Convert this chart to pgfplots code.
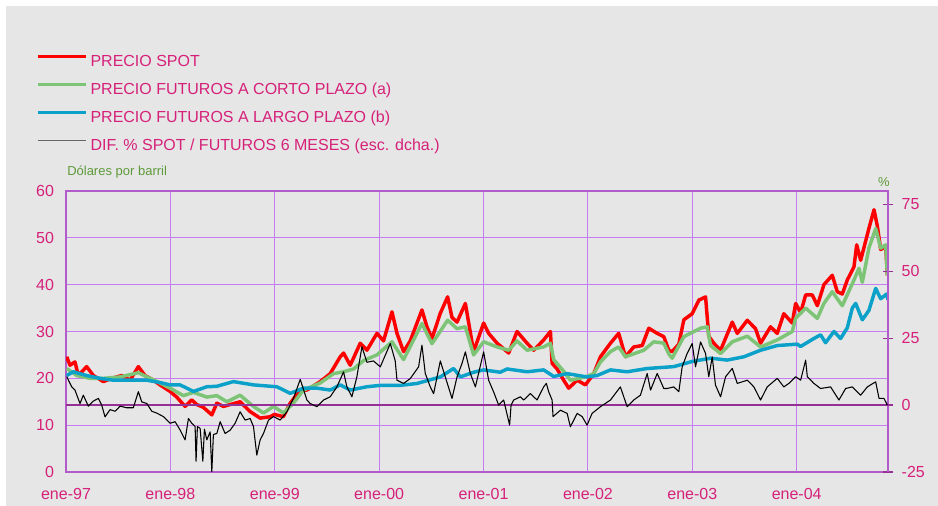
\documentclass[border=0pt]{standalone}
\usepackage{pgfplots}
\pgfplotsset{compat=1.18}
\usepackage{pgfplotstable}
\usepackage{fontspec}
\setmainfont{Liberation Sans}
\definecolor{bggray}{HTML}{E6E6E6}
\definecolor{magtxt}{HTML}{D6217A}
\definecolor{olivetxt}{HTML}{5E9A3A}
\definecolor{gridpurple}{HTML}{C67DF2}
\definecolor{axispurple}{HTML}{B25CCB}
\definecolor{zeropurple}{HTML}{953096}
\definecolor{spotred}{HTML}{FF0000}
\definecolor{shortgreen}{HTML}{7DC477}
\definecolor{longblue}{HTML}{0BA1C9}

% x = years since January 1997
\pgfplotstableread{
x y
0.007 24.6
0.038 22.8
0.086 23.5
0.118 20.6
0.198 22.5
0.262 20.6
0.358 19.3
0.438 20.0
0.534 20.6
0.614 19.6
0.693 22.5
0.757 20.6
0.837 19.6
0.901 18.6
0.997 17.2
1.061 16.0
1.141 14.0
1.205 15.4
1.253 14.4
1.316 13.8
1.397 12.2
1.445 14.7
1.508 14.0
1.668 15.0
1.764 12.9
1.860 11.5
1.956 11.8
1.997 12.3
2.083 11.8
2.148 14.7
2.244 17.5
2.308 17.5
2.435 19.3
2.531 21.0
2.627 24.6
2.659 25.4
2.723 22.8
2.819 27.5
2.883 26.0
2.979 29.6
3.042 28.0
3.123 34.2
3.171 29.6
3.234 25.7
3.298 28.0
3.410 34.6
3.458 31.0
3.506 28.5
3.586 33.9
3.656 37.4
3.698 33.0
3.746 32.0
3.826 36.0
3.905 25.7
4.001 31.8
4.049 29.6
4.130 27.5
4.241 25.4
4.321 30.0
4.417 27.5
4.481 26.0
4.576 28.2
4.641 30.0
4.657 23.2
4.705 22.0
4.768 19.6
4.816 17.9
4.897 19.6
4.976 18.6
5.056 21.0
5.120 24.6
5.216 27.5
5.295 29.6
5.360 24.6
5.439 26.7
5.520 27.0
5.583 30.7
5.664 29.6
5.727 28.9
5.775 26.0
5.807 25.7
5.871 27.3
5.919 32.5
5.999 33.8
6.063 36.7
6.127 37.4
6.158 29.0
6.206 27.5
6.271 26.0
6.383 32.0
6.431 29.6
6.527 32.4
6.606 30.6
6.654 27.5
6.750 31.0
6.814 29.6
6.877 33.8
6.958 31.8
6.990 36.0
7.038 34.0
7.086 37.8
7.150 37.8
7.198 35.5
7.261 40.0
7.341 42.0
7.389 38.5
7.437 38.0
7.485 41.0
7.549 43.8
7.575 48.5
7.613 45.2
7.692 52.0
7.741 56.0
7.773 52.5
7.805 47.5
7.853 48.2
7.869 42.0
}\spot

\pgfplotstableread{
x y
0.007 22.1
0.103 20.6
0.230 20.0
0.358 20.0
0.518 20.3
0.693 21.2
0.805 20.0
0.901 19.0
0.997 17.9
1.125 16.3
1.221 17.0
1.349 16.0
1.445 16.3
1.541 15.0
1.668 16.4
1.796 14.0
1.892 12.6
1.988 14.0
2.083 12.6
2.179 14.7
2.275 17.5
2.435 19.0
2.563 21.0
2.659 21.4
2.755 22.0
2.851 23.8
2.979 25.0
3.123 27.8
3.234 24.0
3.410 31.7
3.506 27.4
3.656 32.4
3.746 30.6
3.826 31.0
3.905 25.0
4.001 27.8
4.130 26.7
4.241 26.0
4.321 28.0
4.417 26.0
4.576 26.7
4.641 27.5
4.672 24.0
4.768 21.5
4.832 19.6
4.976 20.3
5.056 21.0
5.120 23.5
5.216 25.7
5.295 26.7
5.360 24.6
5.535 26.0
5.631 27.8
5.727 27.5
5.775 25.2
5.807 24.3
5.919 28.9
6.079 30.7
6.143 31.0
6.175 27.0
6.271 25.3
6.383 27.8
6.527 29.0
6.654 26.7
6.814 28.2
6.958 30.0
6.990 32.8
7.086 35.0
7.198 32.8
7.261 36.0
7.341 38.5
7.437 35.5
7.549 41.0
7.597 43.5
7.629 40.5
7.692 47.8
7.757 52.0
7.805 47.8
7.853 48.5
7.869 42.0
}\shortfut

\pgfplotstableread{
x y
0.007 20.6
0.070 21.4
0.198 20.6
0.326 20.0
0.454 19.6
0.645 19.6
0.774 19.6
0.901 19.1
0.997 18.6
1.093 18.6
1.221 17.2
1.349 18.2
1.445 18.3
1.604 19.3
1.796 18.6
2.020 18.2
2.148 16.8
2.275 17.9
2.404 17.9
2.531 17.5
2.627 18.6
2.723 17.5
2.883 18.2
3.011 18.5
3.202 18.5
3.363 18.9
3.586 20.3
3.713 22.1
3.778 20.3
3.905 21.3
4.001 21.8
4.161 21.3
4.225 22.0
4.417 21.4
4.576 21.8
4.672 20.4
4.801 21.0
4.992 20.3
5.088 20.6
5.216 21.8
5.376 21.4
5.568 22.1
5.759 22.4
5.823 22.5
5.999 23.6
6.175 24.3
6.335 23.9
6.494 24.6
6.654 26.0
6.814 27.0
7.006 27.3
7.038 26.8
7.165 28.5
7.229 29.3
7.277 27.6
7.357 30.0
7.421 28.5
7.485 30.8
7.533 35.0
7.565 36.0
7.629 32.5
7.692 34.5
7.757 39.2
7.805 37.0
7.862 38.0
7.875 36.8
}\longfut

\pgfplotstableread{
x y
0.007 10.6
0.055 6.8
0.086 5.6
0.134 0.6
0.166 3.7
0.214 -0.4
0.262 1.5
0.310 2.5
0.342 0.0
0.374 -4.4
0.422 -1.7
0.470 -2.3
0.518 -0.4
0.582 -1.0
0.645 -1.0
0.693 5.0
0.726 1.2
0.774 0.6
0.822 -2.3
0.870 -3.0
0.933 -4.3
0.997 -6.8
1.045 -6.2
1.093 -9.3
1.141 -13.0
1.173 -5.0
1.205 -6.8
1.237 -8.0
1.246 -21.0
1.259 -8.0
1.285 -8.7
1.311 -21.0
1.326 -9.0
1.349 -13.0
1.381 -10.0
1.397 -25.0
1.412 -11.0
1.445 -10.6
1.477 -6.2
1.524 -10.6
1.572 -9.4
1.620 -6.8
1.668 -2.5
1.716 -5.6
1.764 -5.0
1.796 -8.0
1.828 -18.7
1.860 -13.0
1.892 -10.6
1.940 -5.6
1.988 -4.3
2.052 -5.6
2.116 -2.5
2.179 2.5
2.244 9.6
2.308 1.9
2.339 0.6
2.404 -0.6
2.467 1.9
2.531 3.1
2.595 6.8
2.659 12.4
2.691 6.8
2.739 3.1
2.787 10.6
2.835 21.8
2.883 16.0
2.946 16.5
3.011 14.3
3.107 23.0
3.154 16.5
3.171 9.3
3.234 8.1
3.298 9.9
3.378 14.3
3.410 22.4
3.442 11.8
3.490 6.8
3.522 4.3
3.586 16.5
3.634 10.5
3.698 2.5
3.746 10.5
3.794 15.6
3.826 19.9
3.874 11.8
3.922 6.8
4.001 19.9
4.049 9.3
4.097 4.9
4.145 0.0
4.193 1.9
4.250 -7.5
4.264 0.0
4.289 1.9
4.353 3.1
4.385 1.9
4.449 4.3
4.513 1.9
4.576 6.8
4.602 8.1
4.624 5.0
4.657 1.9
4.666 -4.3
4.737 -1.9
4.801 -3.1
4.832 -8.1
4.897 -3.1
4.945 -4.3
4.992 -7.5
5.040 -3.1
5.120 -0.6
5.216 1.9
5.311 6.8
5.376 -0.6
5.439 1.9
5.503 3.7
5.568 11.8
5.600 5.6
5.664 11.8
5.727 6.2
5.759 6.2
5.823 6.8
5.871 5.0
5.903 14.3
5.951 19.3
5.999 23.0
6.031 14.3
6.079 23.6
6.127 19.3
6.158 10.6
6.191 18.0
6.222 7.5
6.271 3.1
6.319 10.6
6.383 13.7
6.431 8.1
6.527 9.3
6.590 6.8
6.654 1.9
6.718 6.8
6.814 10.0
6.877 6.8
6.925 8.1
6.990 10.6
7.038 9.3
7.086 16.8
7.102 10.6
7.165 8.1
7.229 6.2
7.325 6.8
7.405 1.9
7.469 6.2
7.533 6.8
7.613 3.7
7.677 6.8
7.757 8.7
7.789 2.5
7.836 2.5
7.869 0.0
}\diffsf

\begin{document}
\begin{tikzpicture}[x=1pt,y=1pt]
\useasboundingbox (0,0) rectangle (703.5,379.5);
\fill[bggray] (4.5,0) rectangle (703.5,375);

\begin{axis}[
  at={(49.5pt,25.5pt)}, anchor=south west,
  scale only axis, width=616.5pt, height=210.75pt,
  clip mode=individual,
  xmin=0, xmax=7.875, ymin=0, ymax=60,
  xtick={0,1,2,3,4,5,6,7},
  xticklabels={ene-97,ene-98,ene-99,ene-00,ene-01,ene-02,ene-03,ene-04},
  ytick={0,10,20,30,40,50,60},
  grid=major, grid style={gridpurple, line width=0.8pt},
  axis line style={axispurple, line width=1.2pt},
  major tick length=0pt,
  /pgf/number format/assume math mode=true,
  tick label style={font=\fontsize{12}{14}\selectfont, text=magtxt},
  xticklabel style={yshift=-9pt},
  yticklabel style={xshift=-5.5pt},
  legend style={at={(-0.0365,1.4866)}, anchor=north west, draw=none, fill=none,
    inner sep=0pt, row sep=10pt, column sep=2.5pt,
    font=\fontsize{12}{14}\selectfont, text=magtxt,
    nodes={inner sep=0pt, text height=8.6pt, text depth=2.5pt},
    cells={anchor=west}},
  legend image code/.code={\draw[#1] (0pt,4.3pt) -- (36pt,4.3pt);},
  legend cell align=left,
]
\addlegendimage{spotred, line width=2.2pt}
\addlegendentry{PRECIO SPOT}
\addlegendimage{shortgreen, line width=2.2pt}
\addlegendentry{PRECIO FUTUROS A CORTO PLAZO (a)}
\addlegendimage{longblue, line width=2.2pt}
\addlegendentry{PRECIO FUTUROS A LARGO PLAZO (b)}
\addlegendimage{black!60, line width=1.2pt}
\addlegendentry{DIF. \% SPOT / FUTUROS 6 MESES (esc. dcha.)}

\addplot[spotred, line width=2.6pt, line join=round, forget plot] table[x=x,y=y] {\spot};
\addplot[shortgreen, line width=2.6pt, line join=round, forget plot] table[x=x,y=y] {\shortfut};
\addplot[longblue, line width=2.6pt, line join=round, forget plot] table[x=x,y=y] {\longfut};

\node[anchor=west, font=\fontsize{9.75}{11}\selectfont, text=olivetxt, inner sep=0pt]
  at (rel axis cs:0,1) [xshift=0.75pt, yshift=14.25pt] {Dólares por barril};
\end{axis}

\begin{axis}[
  at={(49.5pt,25.5pt)}, anchor=south west,
  scale only axis, width=616.5pt, height=210.75pt,
  clip mode=individual,
  xmin=0, xmax=7.875, ymin=-25, ymax=80,
  axis x line=none, axis y line*=right,
  ytick={-25,0,25,50,75},
  tick align=center, major tick length=7.5pt,
  tick style={zeropurple, line width=1pt},
  y axis line style={axispurple, line width=1.2pt},
  extra y ticks={0}, extra y tick labels={},
  extra y tick style={grid=major, grid style={zeropurple, line width=1pt}},
  /pgf/number format/assume math mode=true,
  tick label style={font=\fontsize{12}{14}\selectfont, text=magtxt},
  yticklabel style={xshift=3pt},
]
\addplot[black, line width=0.8pt, line join=round] table[x=x,y=y] {\diffsf};
\node[font=\fontsize{9.75}{11}\selectfont, text=olivetxt, inner sep=0pt]
  at (rel axis cs:1,1) [xshift=-3pt, yshift=7pt] {\%};
\end{axis}
\end{tikzpicture}
\end{document}
